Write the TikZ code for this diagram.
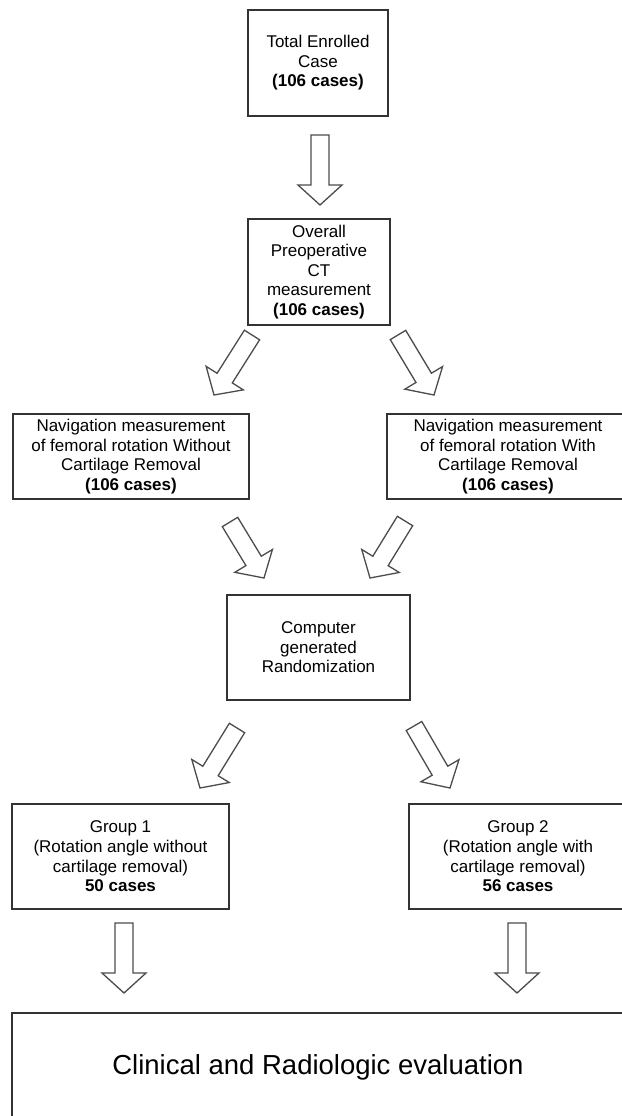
\documentclass[tikz,border=0pt]{standalone}
\usepackage{fontspec}
\setmainfont{Liberation Sans}
\usetikzlibrary{calc}

\tikzset{
	box/.style={draw=black!80, line width=1.8pt, fill=white, align=center, inner sep=2pt, font=\fontsize{17}{19.6}\selectfont},
	blockarrow/.style={draw=black!70, line width=1.3pt, fill=white, line join=miter,
		to path={($(\tikztostart)!9pt!90:(\tikztotarget)$)
			-- ($(\tikztotarget)!20pt!(\tikztostart)!9pt!90:(\tikztotarget)$)
			-- ($(\tikztotarget)!20pt!(\tikztostart)!22pt!90:(\tikztotarget)$)
			-- (\tikztotarget)
			-- ($(\tikztotarget)!20pt!(\tikztostart)!22pt!-90:(\tikztotarget)$)
			-- ($(\tikztotarget)!20pt!(\tikztostart)!9pt!-90:(\tikztotarget)$)
			-- ($(\tikztostart)!9pt!-90:(\tikztotarget)$)
			-- cycle}}
}

\begin{document}
\begin{tikzpicture}[x=1pt,y=-1pt]
		\useasboundingbox (0,0) rectangle (621,1116);
		
		\node[box, minimum width=140pt, minimum height=106pt] (total) at (318,63) {Total Enrolled\\Case\\\textbf{(106 cases)}};
		\node[box, minimum width=142pt, minimum height=106pt] (overall) at (319,272) {Overall\\Preoperative\\CT\\measurement\\\textbf{(106 cases)}};
		\node[box, minimum width=236pt, minimum height=85pt] (navwo) at (131,456.5) {Navigation measurement\\of femoral rotation Without\\Cartilage Removal\\\textbf{(106 cases)}};
		\node[box, minimum width=242pt, minimum height=85pt] (navw) at (508,456.5) {Navigation measurement\\of femoral rotation With\\Cartilage Removal\\\textbf{(106 cases)}};
		\node[box, minimum width=183pt, minimum height=105pt] (random) at (318.5,647.5) {Computer\\generated\\Randomization};
		\node[box, minimum width=217pt, minimum height=105pt] (group1) at (120.5,856.5) {Group 1\\(Rotation angle without\\cartilage removal)\\\textbf{50 cases}};
		\node[box, minimum width=218pt, minimum height=105pt] (group2) at (518,856.5) {Group 2\\(Rotation angle with\\cartilage removal)\\\textbf{56 cases}};
		\node[box, minimum width=612pt, minimum height=108pt, font=\fontsize{27.5}{33}\selectfont] (eval) at (318,1067) {Clinical and Radiologic evaluation};
		
		% tails and tips of the block arrows
		\coordinate (t1) at (320,135);	\coordinate (h1) at (320,205);
		\coordinate (t2) at (252,335);	\coordinate (h2) at (214,395);
		\coordinate (t3) at (398,335);	\coordinate (h3) at (434,395);
		\coordinate (t4) at (230,522);	\coordinate (h4) at (264,578);
		\coordinate (t5) at (405,521);	\coordinate (h5) at (370,578);
		\coordinate (t6) at (237,728);	\coordinate (h6) at (200,788);
		\coordinate (t7) at (414,726);	\coordinate (h7) at (450,788);
		\coordinate (t8) at (124,923);	\coordinate (h8) at (124,993);
		\coordinate (t9) at (517,923);	\coordinate (h9) at (517,993);
		\foreach \n in {1,...,9}{
			\draw[blockarrow] (t\n) to (h\n);
		}
		\end{tikzpicture}
\end{document}
